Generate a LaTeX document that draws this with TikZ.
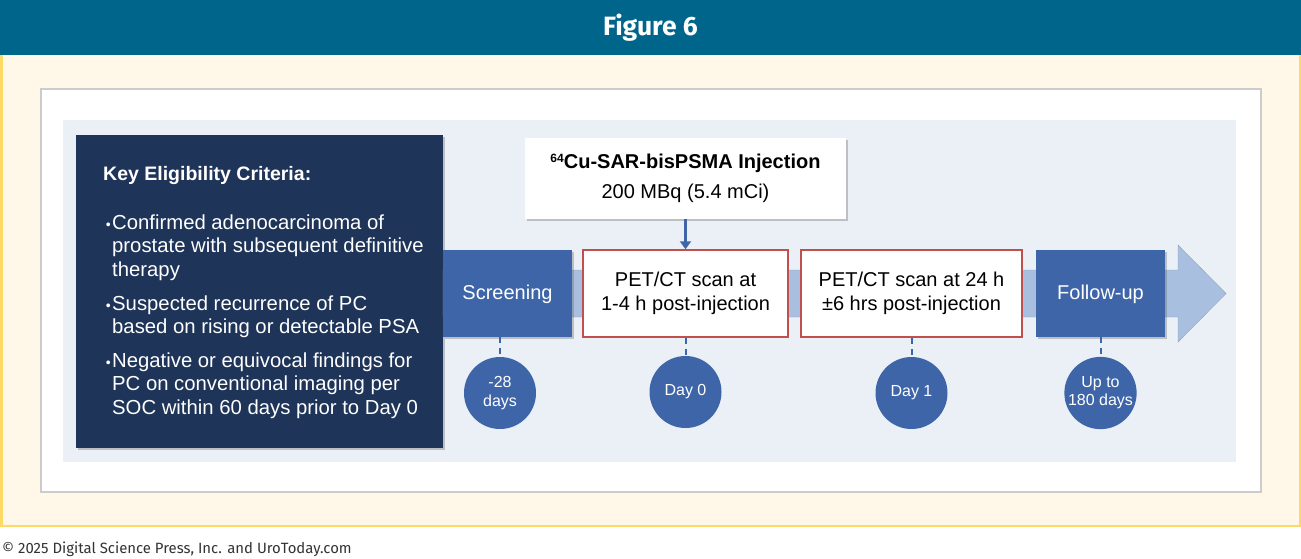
\documentclass[tikz,border=0pt]{standalone}
\usepackage{fontspec}
\setmainfont{Liberation Sans}
\newfontfamily\firafont{Fira Sans}
\usepackage{tikz}
\usetikzlibrary{arrows.meta, shadows, positioning, calc}

\definecolor{headblue}{RGB}{0,101,139}
\definecolor{cream}{RGB}{255,248,232}
\definecolor{goldline}{RGB}{255,217,102}
\definecolor{panelgray}{RGB}{204,204,204}
\definecolor{panelblue}{RGB}{235,240,247}
\definecolor{navy}{RGB}{30,52,88}
\definecolor{stageblue}{RGB}{62,101,168}
\definecolor{bandblue}{RGB}{168,191,223}
\definecolor{scanred}{RGB}{192,80,77}
\definecolor{footgray}{RGB}{51,51,51}

\newcommand{\critlines}[1]{\parbox[t]{340pt}{\raggedright #1}}

\tikzset{
  softshadow/.style={drop shadow={shadow xshift=2pt, shadow yshift=-2pt, opacity=0.35, fill=black!60}},
  stage/.style={rectangle, fill=stageblue, text=white, minimum width=129pt, minimum height=87pt,
    text depth=3pt, font=\fontsize{20}{24}\selectfont, softshadow},
  scan/.style={rectangle, fill=white, draw=scanred, line width=1.5pt, minimum height=87pt,
    align=center, font=\fontsize{20}{23.5}\selectfont},
  daydot/.style={circle, fill=stageblue, text=white, minimum size=72pt, inner sep=0pt,
    align=center, font=\fontsize{16}{18.5}\selectfont},
  tick/.style={draw=stageblue, line width=2pt, dash pattern=on 6pt off 5pt},
  crittext/.style={text=white, anchor=base west, inner sep=0pt,
    font=\fontsize{20.3}{23.5}\selectfont}
}

\begin{document}
\begin{tikzpicture}[x=1pt, y=-1pt]
  \useasboundingbox (0,0) rectangle (1301,558);

  % frame
  \fill[headblue] (0,0) rectangle (1301,55);
  \node[text=white, font=\firafont\bfseries\fontsize{26.5}{30}\selectfont] (fig) at (650.5,28) {Figure 6};
  \draw[goldline, line width=2.5pt, fill=cream] (1.25,55) -- (1.25,525.75) -- (1299.75,525.75) -- (1299.75,55);
  \draw[panelgray, line width=2pt, fill=white] (41,89) rectangle (1261,492);
  \fill[panelblue] (63,120) rectangle (1236,462);

  % criteria
  \node[rectangle, fill=navy, minimum width=367pt, minimum height=313pt, softshadow] (crit) at (259.5,291.5) {};
  \node[crittext, font=\bfseries\fontsize{19.5}{23.5}\selectfont] (kec) at (103,180) {Key Eligibility Criteria:};
  \node[crittext] (c1) at (112,229) {\critlines{Confirmed adenocarcinoma of\\prostate with subsequent definitive\\therapy}};
  \node[crittext] (c2) at (112,310) {\critlines{Suspected recurrence of PC\\based on rising or detectable PSA}};
  \node[crittext] (c3) at (112,367) {\critlines{Negative or equivocal findings for\\PC on conventional imaging per\\SOC within 60 days prior to Day 0}};
  \foreach \b in {c1,c2,c3}
    \node[crittext, anchor=base east, font=\fontsize{14}{14}\selectfont] at ([xshift=-1pt]\b.base west) {\textbullet};

  % timeline band
  \fill[bandblue, draw=bandblue!85!black, line width=0.4pt]
    (443,270) -- (1178,270) -- (1178,245) -- (1226,293.5) -- (1178,342) -- (1178,317) -- (443,317) -- cycle;

  \node[stage] (scr) at (507.5,293.5) {Screening};
  \node[scan, minimum width=205pt] (pet1) at (685.5,293.5) {PET/CT scan at\\1-4 h post-injection};
  \node[scan, minimum width=221pt] (pet2) at (911.5,293.5) {PET/CT scan at 24 h\\±6 hrs post-injection};
  \node[stage] (fup) at (1100.5,293.5) {Follow-up};

  \node[rectangle, fill=white, minimum width=321pt, minimum height=81pt, align=center, softshadow,
    font=\fontsize{20}{30}\selectfont] (inj) at (685.5,178.5)
    {\textbf{\raisebox{0.55ex}{\fontsize{12}{12}\selectfont 64}Cu-SAR-bisPSMA Injection}\\200 MBq (5.4 mCi)};
  \draw[stageblue, line width=3pt, -{Triangle[width=11pt,length=8pt]}] (inj.south) -- (pet1.north);

  % days
  \node[daydot] (d28) at (500,393) {-28\\days};
  \node[daydot] (d0) at (685.5,392) {Day 0};
  \node[daydot] (d1) at (911.5,393) {Day 1};
  \node[daydot, font=\fontsize{16}{18}\selectfont] (d180) at (1100.5,393) {Up to\\180 days};
  \draw[tick] (scr.south -| d28) -- (d28.north);
  \draw[tick] (pet1.south) -- (d0.north);
  \draw[tick] (pet2.south) -- (d1.north);
  \draw[tick] (fup.south) -- (d180.north);

  \node[anchor=base west, inner sep=0pt, text=footgray, font=\firafont\fontsize{14.9}{18}\selectfont] (copy) at (2,553)
    {\textcopyright{} 2025 Digital Science Press, Inc. and UroToday.com};
\end{tikzpicture}
\end{document}
